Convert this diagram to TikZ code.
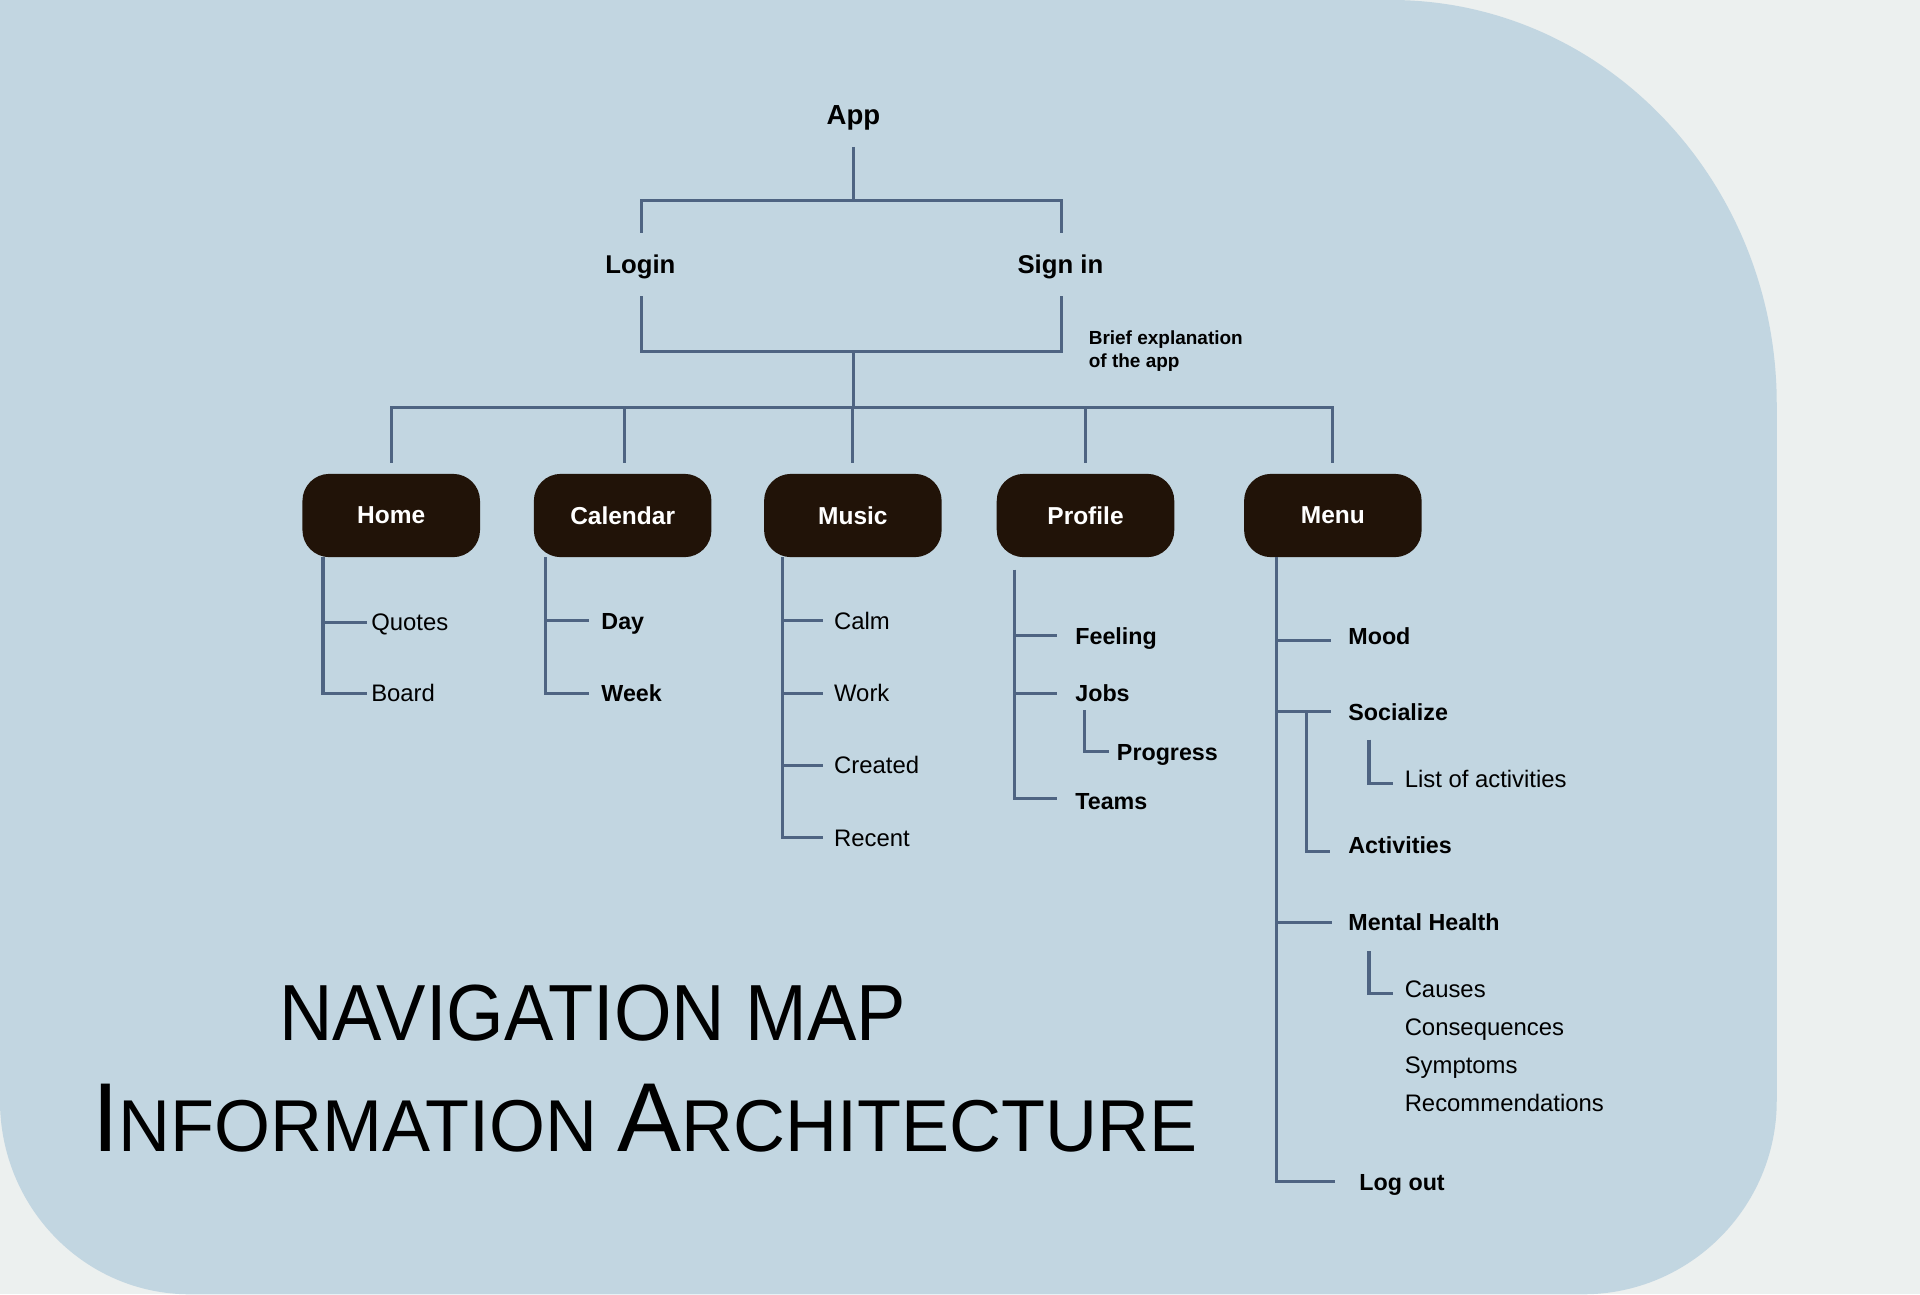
\documentclass[tikz,border=0pt]{standalone}
\usepackage{fontspec}
\setmainfont{Liberation Sans}
\newfontfamily\handA[FakeStretch=0.93]{Liberation Sans}
\newfontfamily\handB[FakeStretch=0.98]{Liberation Sans}
\definecolor{pagec}{HTML}{ECF0EF}
\definecolor{shapec}{HTML}{C2D6E1}
\definecolor{boxc}{HTML}{211308}
\definecolor{linec}{HTML}{4E6482}
\begin{document}
\begin{tikzpicture}[x=1pt,y=-1pt,
  conn/.style={draw=linec, line width=2.5pt},
  lbl/.style={anchor=west, inner sep=0pt, text height=14pt, text depth=0pt, font=\fontsize{19.5}{22}\selectfont},
  lblb/.style={lbl, font=\fontsize{19}{22}\selectfont\bfseries},
  toplbl/.style={inner sep=0pt, font=\fontsize{21}{24}\selectfont\bfseries},
  navbox/.style={fill=boxc, rounded corners=22pt, minimum width=145pt, minimum height=68pt, inner sep=0pt, text=white, font=\fontsize{20}{24}\selectfont\bfseries},
  handtitle/.style={anchor=base west, inner sep=0pt}]
\useasboundingbox (0,0) rectangle (1568,1057);
\fill[pagec] (0,0) rectangle (1568,1057);
\fill[shapec] (0,0) -- (1136,0) .. controls (1310,0) and (1451,148) .. (1451,330)
  -- (1451,899) .. controls (1451,986) and (1380,1057) .. (1293,1057)
  -- (155,1057) .. controls (69,1057) and (0,986) .. (0,899) -- cycle;

% top levels
\node[toplbl, font=\fontsize{22.5}{24}\selectfont\bfseries] (app) at (697,96) {App};
\node[toplbl] (login) at (523,218) {Login};
\node[toplbl] (signin) at (866,218) {Sign in};
\node[anchor=west, inner sep=0pt, align=left, font=\fontsize{15.5}{19}\selectfont\bfseries] (brief) at (889,287) {Brief explanation\\of the app};

% main boxes
\node[navbox] (home) at (319.5,421) {Home};
\node[navbox] (calendar) at (508.5,421) {Calendar};
\node[navbox] (music) at (696.5,421) {Music};
\node[navbox] (profile) at (886.5,421) {Profile};
\node[navbox] (menu) at (1088.5,421) {Menu};

% children
\node[lbl] (quotes) at (303,508) {Quotes};
\node[lbl] (board) at (303,566) {Board};
\node[lblb] (day) at (491,507) {Day};
\node[lblb] (week) at (491,566) {Week};
\node[lbl] (calm) at (681,507) {Calm};
\node[lbl] (work) at (681,566) {Work};
\node[lbl] (created) at (681,625) {Created};
\node[lbl] (recent) at (681,684) {Recent};
\node[lblb] (feeling) at (878,519) {Feeling};
\node[lblb] (jobs) at (878,566) {Jobs};
\node[lblb] (progress) at (912,614) {Progress};
\node[lblb] (teams) at (878,654) {Teams};
\node[lblb] (mood) at (1101,519) {Mood};
\node[lblb] (socialize) at (1101,581) {Socialize};
\node[lbl] (listact) at (1147,636) {List of activities};
\node[lblb] (activities) at (1101,690) {Activities};
\node[lblb] (mental) at (1101,753) {Mental Health};
\node[lbl] (causes) at (1147,808) {Causes};
\node[lbl] (conseq) at (1147,839) {Consequences};
\node[lbl] (symptoms) at (1147,870) {Symptoms};
\node[lbl] (recs) at (1147,901) {Recommendations};
\node[lblb] (logout) at (1110,965) {Log out};

% titles
\node[handtitle, font=\handA\fontsize{65}{70}\selectfont] (nav) at (228,850) {NAVIGATION MAP};
\node[handtitle, font=\handB\fontsize{60}{70}\selectfont] (ia) at (75,940) {{\fontsize{80}{80}\selectfont I}NFORMATION {\fontsize{80}{80}\selectfont A}RCHITECTURE};

% connectors: top
\coordinate (j1) at (697,164);
\coordinate (j2) at (697,287);
\coordinate (j3) at (697,333);
\draw[conn] ([yshift=-24pt]app.center) -- (j1);
\draw[conn] ([xshift=1pt,yshift=28pt]login.center) |- (j1) -| ([xshift=1pt,yshift=28pt]signin.center);
\draw[conn] ([xshift=1pt,yshift=-24pt]login.center) |- (j2) -| ([xshift=1pt,yshift=-24pt]signin.center);
\draw[conn] (j2) -- (j3);
\draw[conn] ([yshift=9pt]home.north) |- (j3) -| ([yshift=9pt]menu.north);
\draw[conn] ([xshift=1.5pt,yshift=9pt]calendar.north) -- ([xshift=1.5pt]calendar.north |- j3);
\draw[conn] ([yshift=9pt]music.north) -- (music.north |- j3);
\draw[conn] ([yshift=9pt]profile.north) -- (profile.north |- j3);

% home
\coordinate (hv) at ([xshift=17pt]home.south west);
\draw[conn] (hv) |- ([xshift=-3pt]board.west);
\draw[conn] (hv |- quotes.west) -- ([xshift=-3pt]quotes.west);
% calendar
\coordinate (cv) at ([xshift=10pt]calendar.south west);
\draw[conn] (cv) |- ([xshift=-10pt]week.west);
\draw[conn] (cv |- day.west) -- ([xshift=-10pt]day.west);
% music
\coordinate (mv) at ([xshift=15pt]music.south west);
\draw[conn] (mv) |- ([xshift=-9pt]recent.west);
\draw[conn] (mv |- calm.west) -- ([xshift=-9pt]calm.west);
\draw[conn] (mv |- work.west) -- ([xshift=-9pt]work.west);
\draw[conn] (mv |- created.west) -- ([xshift=-9pt]created.west);
% profile
\coordinate (pv) at ([xshift=15pt,yshift=-10pt]profile.south west);
\draw[conn] (pv) |- ([xshift=-15pt,yshift=2pt]teams.west);
\draw[conn] (pv |- feeling.west) -- ([xshift=-15pt]feeling.west);
\draw[conn] (pv |- jobs.west) -- ([xshift=-15pt]jobs.west);
\draw[conn] ([xshift=8pt,yshift=-14pt]jobs.west) |- ([xshift=-6pt]progress.west);
% menu
\coordinate (nv) at ([xshift=27pt]menu.south west);
\draw[conn] (nv) |- ([xshift=-20pt]logout.west);
\draw[conn] ([yshift=-4pt]nv |- mood.west) -- ([xshift=-14pt,yshift=-4pt]mood.west);
\draw[conn] (nv |- socialize.west) -- ([xshift=-14pt]socialize.west);
\coordinate (sv) at ([xshift=-34pt]socialize.west);
\draw[conn] (sv) |- ([xshift=-15pt,yshift=-5pt]activities.west);
\draw[conn] ([xshift=17pt,yshift=-23pt]socialize.west) |- ([xshift=-9pt,yshift=-4pt]listact.west);
\draw[conn] (nv |- mental.west) -- ([xshift=-13pt]mental.west);
\draw[conn] ([xshift=17pt,yshift=-24pt]mental.west) |- ([xshift=-9pt,yshift=-3pt]causes.west);
\end{tikzpicture}
\end{document}
